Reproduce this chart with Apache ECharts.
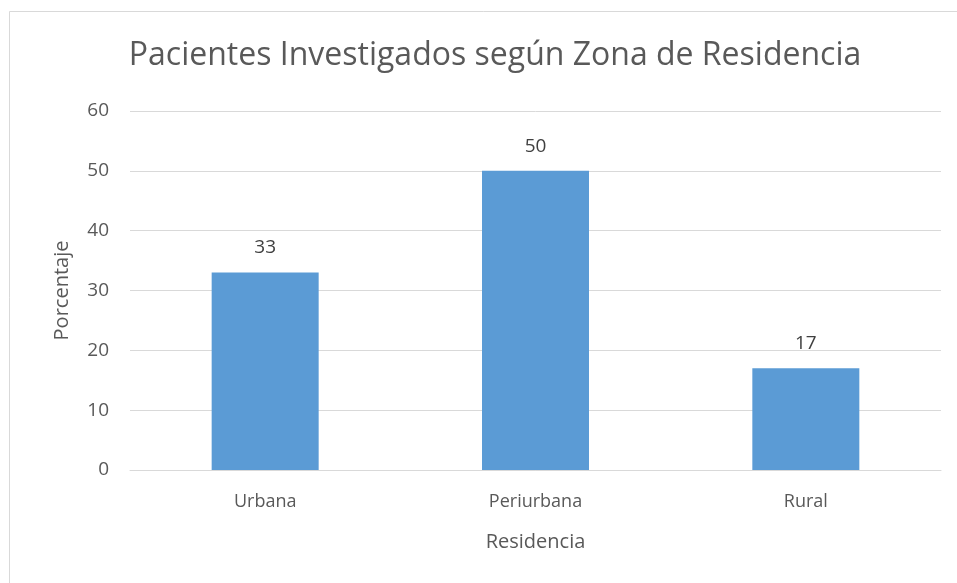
<!DOCTYPE html>
<html>
<head>
<meta charset="utf-8">
<script src="https://cdn.jsdelivr.net/npm/echarts@6/dist/echarts.min.js"></script>
<style>
  html, body { margin: 0; padding: 0; background: #fff; }
  #chart { width: 957px; height: 583px; }
</style>
</head>
<body>
<div id="chart"></div>
<script>
const categories = ['Urbana', 'Periurbana', 'Rural'];
const values = [33, 50, 17];
const yTicks = [0, 10, 20, 30, 40, 50, 60];

const font = '"Open Sans", "Noto Sans", sans-serif';

const chart = echarts.init(document.getElementById('chart'));

chart.setOption({
  animation: false,
  backgroundColor: '#fff',
  title: {
    text: 'Pacientes Investigados según Zona de Residencia',
    left: 490,
    textAlign: 'center',
    top: 35,
    textStyle: {
      fontFamily: font,
      fontSize: 32,
      fontWeight: 'normal',
      color: '#595959',
    },
  },
  graphic: [
    {
      type: 'rect',
      shape: { x: 9.5, y: 11.5, width: 1000, height: 1000 },
      style: { fill: 'none', stroke: '#d9d9d9', lineWidth: 1 },
      silent: true,
    },
  ],
  grid: {
    left: 130,
    right: 16,
    top: 111,
    bottom: 113,
  },
  xAxis: {
    type: 'category',
    data: categories,
    name: 'Residencia',
    nameLocation: 'middle',
    nameGap: 62,
    nameTextStyle: { fontFamily: font, fontSize: 20, color: '#595959' },
    axisLine: { lineStyle: { color: '#d9d9d9', width: 1 } },
    axisTick: { show: false },
    axisLabel: {
      margin: 23,
      fontFamily: font,
      fontSize: 18,
      color: '#595959',
    },
  },
  yAxis: {
    type: 'value',
    min: yTicks[0],
    max: yTicks[yTicks.length - 1],
    interval: 10,
    name: 'Porcentaje',
    nameLocation: 'middle',
    nameGap: 58,
    nameTextStyle: { fontFamily: font, fontSize: 20, color: '#595959' },
    axisLine: { show: false },
    axisTick: { show: false },
    axisLabel: {
      margin: 21,
      fontFamily: font,
      fontSize: 19,
      color: '#595959',
    },
    splitLine: { lineStyle: { color: '#d9d9d9', width: 1 } },
  },
  series: [
    {
      type: 'bar',
      data: values,
      barWidth: 107,
      itemStyle: { color: '#5b9bd5' },
      label: {
        show: true,
        position: 'top',
        distance: 15,
        fontFamily: font,
        fontSize: 19,
        color: '#404040',
      },
    },
  ],
});
</script>
</body>
</html>
